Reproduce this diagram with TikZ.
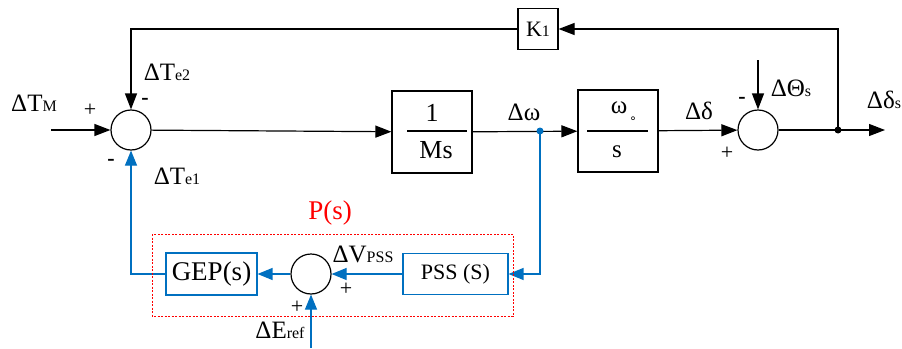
\documentclass[tikz,border=0pt]{standalone}
\usepackage{fontspec}
\setmainfont{Liberation Serif}
\newfontfamily\symfont{DejaVu Sans}
\usetikzlibrary{arrows.meta}

\definecolor{pblue}{RGB}{0,112,192}
\newcommand{\subtxt}[1]{{\fontsize{16}{16}\selectfont #1}}

\begin{document}
\begin{tikzpicture}[x=1pt,y=-1pt,
    sumnode/.style={circle,draw,line width=1.2pt,minimum size=40pt,inner sep=0pt},
    blk/.style={draw,line width=1.2pt,inner sep=0pt},
    bblk/.style={draw=pblue,line width=1.1pt,inner sep=0pt,font=\fontsize{22}{24}\selectfont},
    arr/.style={line width=1.2pt,-{Triangle[length=16pt,width=12pt]}},
    barr/.style={pblue,line width=1.2pt,-{Triangle[length=15pt,width=12pt]}},
    lbl/.style={inner sep=0pt,font=\fontsize{25}{27}\selectfont},
    sgn/.style={inner sep=0pt,font=\fontsize{22}{22}\selectfont}]
    \useasboundingbox (0,0) rectangle (902,348);

    % Define the blocks and summing points
    \node[sumnode] (s1) at (131,130) {};
    \node[sumnode] (s2) at (758,130) {};
    \node[sumnode] (s3) at (311,274) {};
    \node[blk,minimum width=40pt,minimum height=41pt] (k1) at (538,29) {};
    \node[blk,minimum width=80pt,minimum height=82pt] (gm) at (432,132) {};
    \node[blk,minimum width=80pt,minimum height=82pt] (gw) at (618,131) {};
    \node[bblk,minimum width=105pt,minimum height=41pt] (pss) at (455.5,274) {PSS (S)};
    \node[bblk,minimum width=91pt,minimum height=42pt,font=\fontsize{27}{28}\selectfont] (gep) at (211.5,274) {GEP(s)};

    % Free ends and branch points
    \coordinate (in) at (51,130);
    \coordinate (out) at (885,130);
    \coordinate (tap) at (838,130);
    \coordinate (dw) at (540,131);
    \coordinate (th) at (758,60);
    \coordinate (er) at (311,348);

    % Text inside the blocks
    \node[inner sep=0pt,font=\fontsize{22}{24}\selectfont] at (k1) {K\subtxt{1}};
    \node[inner sep=0pt,font=\fontsize{26}{28}\selectfont] at (432,113) {1};
    \draw[line width=1.2pt] (407,131) -- (467,131);
    \node[inner sep=0pt,font=\fontsize{26}{28}\selectfont] at (436,150) {Ms};
    \node[inner sep=0pt,font=\fontsize{25}{26}\selectfont] at (619,108) {ω};
    \node[inner sep=0pt,font=\symfont\fontsize{12}{12}\selectfont] at (633,120) {∘};
    \draw[line width=1.2pt] (587,131) -- (648,131);
    \node[inner sep=0pt,font=\fontsize{25}{26}\selectfont] at (617,152) {s};

    % Draw the black connectors
    \draw[arr] (in) -- (s1);
    \draw[arr] (s1) -- (gm);
    \draw[arr] (gm) -- (gw);
    \draw[arr] (gw) -- (s2);
    \draw[arr] (s2) -- (out);
    \draw[arr] (tap) |- (k1);
    \draw[arr] (k1) -| (s1);
    \draw[arr] (th) -- (s2);
    \fill (tap) circle (3.5);

    % Draw the blue connectors
    \draw[barr] (dw) |- (pss);
    \draw[barr] (pss) -- (s3);
    \draw[barr] (s3) -- (gep);
    \draw[barr] (gep) -| (s1);
    \draw[barr] (er) -- (s3);
    \fill[pblue] (dw) circle (3.5);

    % Dotted frame of P(s)
    \draw[red,line width=1pt,dash pattern=on 2pt off 1.5pt] (152,234) rectangle (513,316);
    \node[red,inner sep=0pt,font=\fontsize{27}{28}\selectfont] at (330,213) {P(s)};

    % Place the labels
    \node[lbl] at (34,103) {ΔT\subtxt{M}};
    \node[lbl] at (167,72) {ΔT\subtxt{e2}};
    \node[lbl] at (177,176) {ΔT\subtxt{e1}};
    \node[lbl] at (524,112) {Δω};
    \node[lbl] at (699,111) {Δδ};
    \node[lbl] at (791,88) {ΔΘ\subtxt{s}};
    \node[lbl] at (884,100) {Δδ\subtxt{s}};
    \node[lbl] at (363,254) {ΔV\subtxt{PSS}};
    \node[lbl] at (280,330) {ΔE\subtxt{ref}};

    % Signs at the summing points
    \node[sgn] at (90,110) {+};
    \node[sgn] at (145,101) {\textbf{-}};
    \node[sgn] at (111,162) {\textbf{-}};
    \node[sgn] at (742,100) {\textbf{-}};
    \node[sgn] at (727,153) {+};
    \node[sgn] at (346,289) {+};
    \node[sgn] at (297,307) {+};
\end{tikzpicture}
\end{document}
